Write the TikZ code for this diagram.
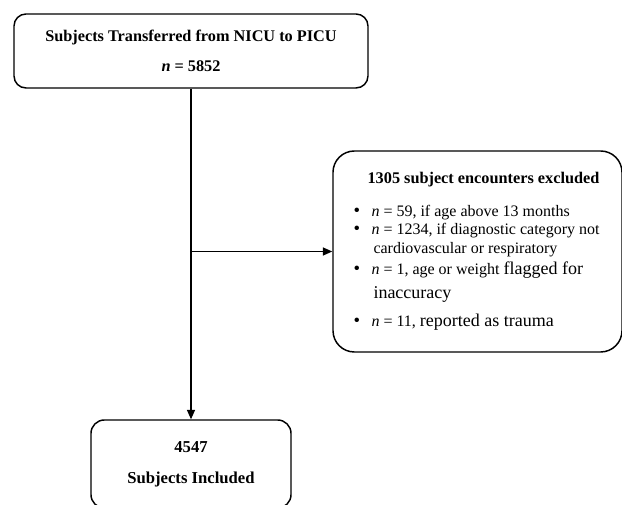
\documentclass[tikz,border=0pt]{standalone}
\usepackage{fontspec}
\setmainfont{Liberation Serif}
\usetikzlibrary{arrows.meta, positioning}

\newcommand{\bitem}{\par\hangindent=15pt\hangafter=1\noindent
  \makebox[13.5pt][l]{\fontsize{14}{13.5}\selectfont\textbullet}}
\newcommand{\bigpart}[1]{{\fontsize{13.5}{13.5}\selectfont #1}}

\begin{document}
\begin{tikzpicture}[x=0.75pt, y=-0.75pt,
    box/.style={draw, line width=1.1pt, align=center, inner sep=0pt},
    link/.style={line width=0.9pt, -{Triangle[length=7pt, width=6pt]}}]
  \useasboundingbox (0,0) rectangle (622,505);
  % source box
  \node[box, rounded corners=9pt, minimum width=265.5pt, minimum height=55.5pt,
    font=\fontsize{12.2}{14.5}\selectfont\bfseries] (src) at (191,51)
    {Subjects Transferred from NICU to PICU\\[8.5pt] \textit{n} = 5852};
  % exclusions
  \node[box, rounded corners=16pt, minimum width=216.75pt, minimum height=150.75pt,
    font=\fontsize{12}{13.5}\selectfont] (excl) at (477.5,251.5)
    {\hspace*{9pt}\parbox{195pt}{
      {\centering\fontsize{12.2}{13.5}\selectfont\bfseries 1305 subject encounters excluded\par}
      \vspace{11.5pt}
      \bitem \textit{n} = 59, if age above 13 months
      \bitem \textit{n} = 1234, if diagnostic category not\\[0.75pt]
        cardiovascular or respiratory
      \par\vspace{2.25pt}
      \bitem \textit{n} = 1, age or weight \bigpart{flagged for}\\[4.5pt]
        \bigpart{inaccuracy}
      \par\vspace{7.5pt}
      \bitem \textit{n} = 11, \bigpart{reported as trauma}\par}};
  % included
  \node[box, rounded corners=10pt, minimum width=150pt, minimum height=66pt,
    font=\fontsize{12.5}{14.5}\selectfont\bfseries] (incl) at (191,464)
    {4547\\[9pt] Subjects Included};
  \draw[link] (src.south) -- (incl.north);
  \draw[link] (src.south |- excl.west) -- (excl.west);
\end{tikzpicture}
\end{document}
